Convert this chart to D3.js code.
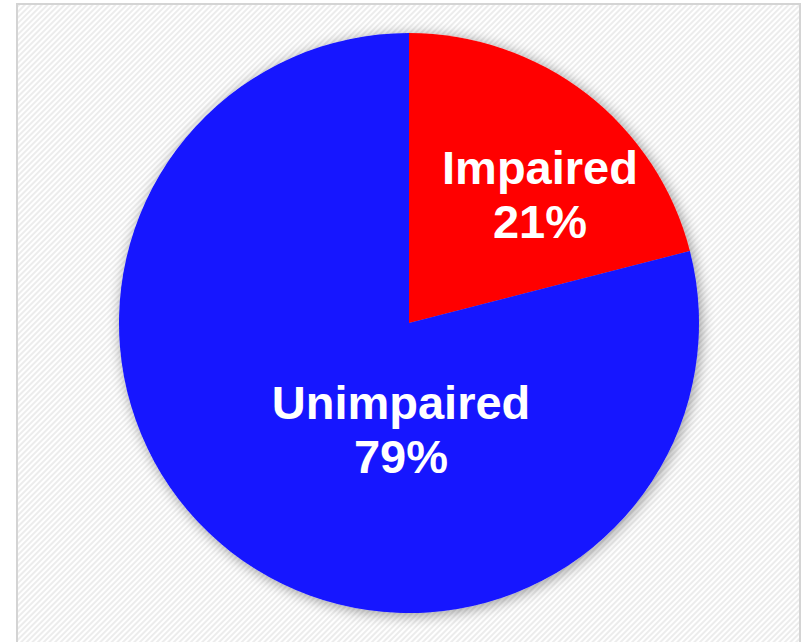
<!DOCTYPE html>
<html>
<head>
<meta charset="utf-8">
<script src="https://cdn.jsdelivr.net/npm/d3@7"></script>
<style>
  html, body { margin: 0; padding: 0; background: #ffffff; }
  svg { display: block; }
</style>
</head>
<body>
<svg id="chart" width="804" height="642"></svg>
<script>
// Share of participants by impairment status
const categories = ["Impaired", "Unimpaired"];
const values = [21, 79];
const valueLabels = ["21%", "79%"];
const colors = ["#ff0000", "#1414ff"];

const W = 804, H = 642;
const cx = 409, cy = 323, radius = 290;
// Label block centres relative to the pie centre
const labelOffsets = [[131, -129], [-8, 106]];

const svg = d3.select("#chart");
const defs = svg.append("defs");

// Fine diagonal weave behind the chart
const pat = defs.append("pattern")
  .attr("id", "weave")
  .attr("patternUnits", "userSpaceOnUse")
  .attr("width", 4).attr("height", 4)
  .attr("patternTransform", "rotate(45)");
pat.append("rect").attr("width", 4).attr("height", 4).attr("fill", "#ffffff");
pat.append("rect").attr("width", 2).attr("height", 4).attr("fill", "#ececec");

// Soft shadow under the pie
const shadow = defs.append("filter")
  .attr("id", "pieShadow")
  .attr("x", "-20%").attr("y", "-20%")
  .attr("width", "140%").attr("height", "140%");
shadow.append("feGaussianBlur").attr("in", "SourceAlpha").attr("stdDeviation", 7).attr("result", "blur");
shadow.append("feOffset").attr("in", "blur").attr("dx", 2).attr("dy", 2).attr("result", "off");
shadow.append("feComponentTransfer").attr("in", "off").attr("result", "shade")
  .append("feFuncA").attr("type", "linear").attr("slope", 0.4);
const merge = shadow.append("feMerge");
merge.append("feMergeNode").attr("in", "shade");
merge.append("feMergeNode").attr("in", "SourceGraphic");

// Plot frame
svg.append("rect")
  .attr("x", 17).attr("y", 4)
  .attr("width", 783).attr("height", 700)
  .attr("fill", "url(#weave)")
  .attr("stroke", "#d4d4d4")
  .attr("stroke-width", 2);

const data = categories.map((c, i) => ({ name: c, value: values[i], label: valueLabels[i], color: colors[i], offset: labelOffsets[i] }));

const pie = d3.pie().sort(null).value(d => d.value);
const arc = d3.arc().innerRadius(0).outerRadius(radius);

const g = svg.append("g").attr("transform", `translate(${cx},${cy})`);

g.append("g")
  .attr("filter", "url(#pieShadow)")
  .selectAll("path")
  .data(pie(data))
  .join("path")
  .attr("d", arc)
  .attr("fill", d => d.data.color);

const labels = g.selectAll("text.lbl")
  .data(pie(data))
  .join("text")
  .attr("class", "lbl")
  .attr("text-anchor", "middle")
  .attr("fill", "#ffffff")
  .attr("font-family", "'Liberation Sans', Arial, sans-serif")
  .attr("font-weight", "bold")
  .attr("font-size", 47)
  .attr("transform", d => `translate(${d.data.offset[0]},${d.data.offset[1]})`);

labels.append("tspan")
  .attr("x", 0).attr("y", -10)
  .text(d => d.data.name);
labels.append("tspan")
  .attr("x", 0).attr("y", 44)
  .text(d => d.data.label);
</script>
</body>
</html>
